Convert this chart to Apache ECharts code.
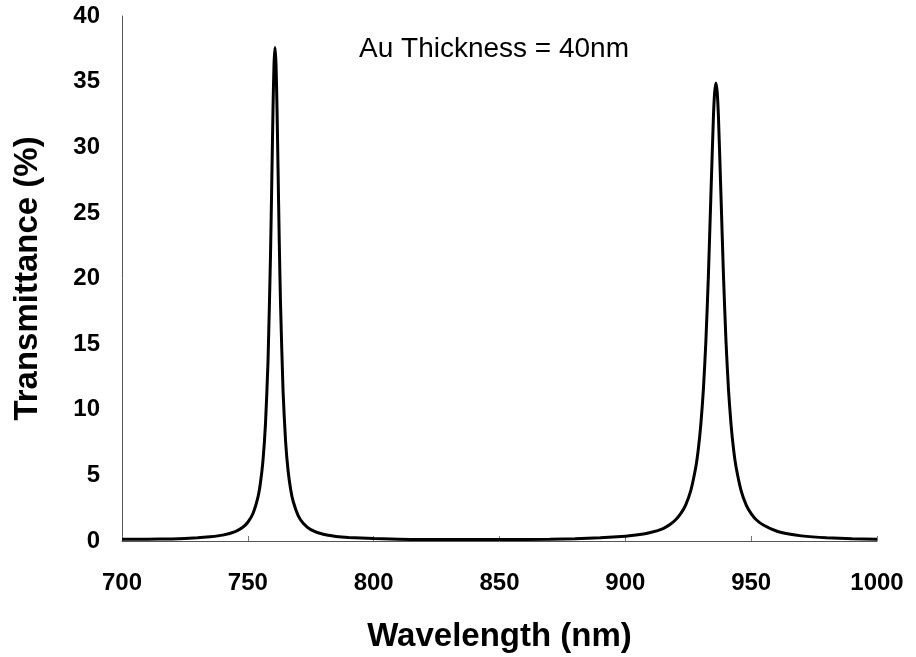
<!DOCTYPE html>
<html>
<head>
<meta charset="utf-8">
<script src="https://cdn.jsdelivr.net/npm/echarts@6/dist/echarts.min.js"></script>
<style>html,body{margin:0;padding:0;background:#fff}#c{width:916px;height:657px}</style>
</head>
<body>
<div id="c"></div>
<script>
const wavelength = [700,710,720,730,735,740,745,748,750,752,754,755,756,757,758,759,759.5,760,760.4,760.8,761.2,761.6,762,762.5,763,764,765,766,767,768,770,772,775,780,785,790,800,820,850,870,880,890,900,905,910,915,918,920,922,924,926,928,929,930,931,932,933,934,935,935.5,936,936.5,937,938,939,940,941,942,943,944,946,948,950,952,955,960,965,970,980,990,1000];
const transmittance = [0.13,0.14,0.16,0.24,0.32,0.45,0.72,1.05,1.43,2.08,3.33,4.42,6.08,8.88,13.58,21.7,27.2,32.9,36.3,37.6,36.3,32.9,28.4,22.7,18.0,11.4,7.6,5.35,3.95,3.03,1.94,1.36,0.87,0.51,0.35,0.27,0.19,0.11,0.11,0.14,0.18,0.24,0.36,0.47,0.65,0.95,1.3,1.62,2.08,2.76,3.83,5.63,7.0,8.88,11.5,15.2,20.2,26.35,32.3,34.2,34.9,34.2,32.3,26.35,20.2,15.2,11.5,8.88,7.0,5.63,3.83,2.76,2.08,1.62,1.2,0.76,0.53,0.39,0.25,0.17,0.13];
const xTicks = {min: 700, max: 1000, step: 50};
const yTicks = {min: 0, max: 40, step: 5};
const annotation = 'Au Thickness = 40nm';
const xTitle = 'Wavelength (nm)';
const yTitle = 'Transmittance (%)';

const chart = echarts.init(document.getElementById('c'), null, {renderer: 'canvas'});
const font = 'Liberation Sans, Arial, sans-serif';
chart.setOption({
  animation: false,
  backgroundColor: '#fff',
  grid: {left: 122, right: 39, top: 16, bottom: 116, containLabel: false, outerBoundsMode: 'none'},
  xAxis: {
    type: 'value', min: xTicks.min, max: xTicks.max, interval: xTicks.step,
    name: xTitle, nameLocation: 'middle', nameGap: 79,
    nameTextStyle: {fontFamily: font, fontSize: 33, fontWeight: 'bold', color: '#000'},
    axisLine: {show: true, lineStyle: {color: '#555', width: 1}},
    axisTick: {show: true, inside: true, length: 5, lineStyle: {color: '#777'}},
    splitLine: {show: false},
    axisLabel: {fontFamily: font, fontSize: 24, fontWeight: 'bold', color: '#000', margin: 30,
      formatter: v => String(v)}
  },
  yAxis: {
    type: 'value', min: yTicks.min, max: yTicks.max, interval: yTicks.step,
    name: yTitle, nameLocation: 'middle', nameGap: 78, nameRotate: 90,
    nameTextStyle: {fontFamily: font, fontSize: 33, fontWeight: 'bold', color: '#000'},
    axisLine: {show: true, lineStyle: {color: '#555', width: 1}},
    axisTick: {show: false},
    splitLine: {show: false},
    axisLabel: {fontFamily: font, fontSize: 24, fontWeight: 'bold', color: '#000', margin: 22,
      formatter: v => String(v)}
  },
  graphic: [{
    type: 'text', left: 359, top: 35,
    style: {text: annotation, font: 'normal 28px ' + font, fill: '#000'}
  }],
  series: [{
    type: 'line',
    data: wavelength.map((w, i) => [w, transmittance[i]]),
    showSymbol: false,
    smooth: 0.2,
    lineStyle: {color: '#000', width: 3},
    z: 3
  }]
});
</script>
</body>
</html>
